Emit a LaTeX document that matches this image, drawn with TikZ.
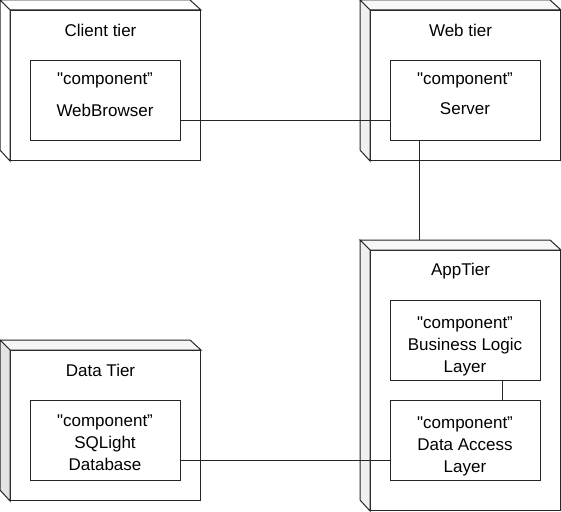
\documentclass[tikz,border=0pt]{standalone}
\usepackage{fontspec}
\setmainfont{Liberation Sans}
\newfontfamily\rawfont{Liberation Sans}
\usetikzlibrary{calc}
\definecolor{linec}{HTML}{262626}
\definecolor{sideA}{HTML}{F0F0F0}
\definecolor{topA}{HTML}{F7F7F7}
\definecolor{sideD}{HTML}{E3E3E3}
\definecolor{topD}{HTML}{F5F5F5}
\newcommand\sq{{\rawfont"}}
\begin{document}
\begin{tikzpicture}[x=1pt,y=1pt,
  every node/.style={font=\fontsize{17}{22}\selectfont},
  front/.style={draw=linec, line width=1pt, fill=white, rectangle, inner sep=0pt, anchor=north west, minimum width=190pt},
  strip/.style={draw=linec, line width=1pt, line join=miter},
  comp/.style={draw=linec, line width=1pt, fill=white, rectangle, inner sep=0pt, minimum width=150pt, minimum height=80pt},
  ctext/.style={inner sep=0pt, align=center},
  title/.style={inner sep=0pt, anchor=center},
  conn/.style={draw=linec, line width=1pt}]
\useasboundingbox (0,0) rectangle (561,-511);
% ---- Client tier
\node[front, minimum height=150pt] (client) at (10,-10) {};
\draw[strip, fill=white] (client.north west) -- ++(-10,10) -- ++(190,0) -- (client.north east) -- cycle;
\draw[strip, fill=white] (client.north west) -- ++(-10,10) -- ++(0,-150) -- (client.south west) -- cycle;
\node[title] (clientT) at ($(client.north)+(-5,-20)$) {Client tier};
\node[comp] (browser) at (105,-100) {};
\node[ctext] (browserT) at ($(browser.center)+(0,5)$) {\sq component”\\[10pt]WebBrowser};
% ---- Web tier
\node[front, minimum height=150pt] (web) at (370,-10) {};
\draw[strip, fill=topA] (web.north west) -- ++(-10,10) -- ++(190,0) -- (web.north east) -- cycle;
\draw[strip, fill=sideA] (web.north west) -- ++(-10,10) -- ++(0,-150) -- (web.south west) -- cycle;
\node[title] (webT) at ($(web.north)+(-5,-20)$) {Web tier};
\node[comp] (server) at (465,-100) {};
\node[ctext] (serverT) at ($(server.center)+(0,6)$) {\sq component”\\[8pt]Server};
% ---- App tier
\node[front, minimum height=260pt] (app) at (370,-250) {};
\draw[strip, fill=topA] (app.north west) -- ++(-10,10) coordinate (appback) -- ++(190,0) -- (app.north east) -- cycle;
\draw[strip, fill=sideA] (app.north west) -- ++(-10,10) -- ++(0,-260) -- (app.south west) -- cycle;
\node[title] (appT) at ($(app.north)+(-5,-21)$) {AppTier};
\node[comp] (bl) at (465,-340) {};
\node[ctext] (blT) at ($(bl.center)+(0,-6)$) {\sq component”\\Business Logic\\Layer};
\node[comp] (da) at (465,-440) {};
\node[ctext] (daT) at ($(da.center)+(0,-6)$) {\sq component”\\Data Access\\Layer};
% ---- Data tier
\node[front, minimum height=150pt] (data) at (10,-350) {};
\draw[strip, fill=topD] (data.north west) -- ++(-10,10) -- ++(190,0) -- (data.north east) -- cycle;
\draw[strip, fill=sideD] (data.north west) -- ++(-10,10) -- ++(0,-150) -- (data.south west) -- cycle;
\node[title] (dataT) at ($(data.north)+(-5,-20)$) {Data Tier};
\node[comp] (sql) at (105,-440) {};
\node[ctext] (sqlT) at ($(sql.center)+(0,-3)$) {\sq component”\\SQLight\\Database};
% ---- connectors
\coordinate (b1) at ($(browser.south east)!0.25!(browser.north east)$);
\draw[conn] (b1) -- (b1 -| server.west);
\coordinate (s1) at ($(server.south west)!0.2!(server.south east)$);
\draw[conn] (s1) -- (s1 |- appback);
\coordinate (l1) at ($(bl.south west)!0.75!(bl.south east)$);
\draw[conn] (l1) -- (l1 |- da.north);
\coordinate (q1) at ($(sql.south east)!0.25!(sql.north east)$);
\draw[conn] (q1) -- (q1 -| da.west);
\end{tikzpicture}
\end{document}
